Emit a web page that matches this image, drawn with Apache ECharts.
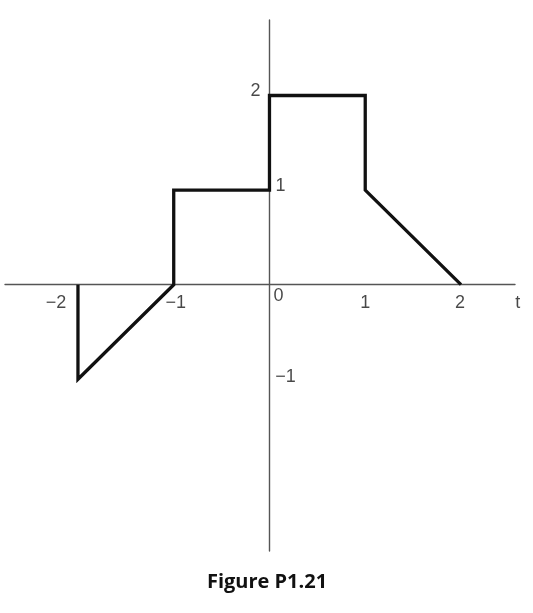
<!DOCTYPE html>
<html>
<head>
<meta charset="utf-8">
<script src="https://cdn.jsdelivr.net/npm/echarts@6/dist/echarts.min.js"></script>
<style>html,body{margin:0;padding:0;background:#fff;}#c{width:533px;height:613px;}</style>
</head>
<body>
<div id="c"></div>
<script>
// Signal x(t) vertices (t, value)
var signalT = [-2, -2, -1, -1, 0, 0, 1, 1, 2];
var signalX = [0, -1, 0, 1, 1, 2, 2, 1, 0];
// Tick labels
var xTickValues = [-2, -1, 1, 2];
var xTickLabels = ['\u22122', '\u22121', '1', '2'];
var yTickValues = [2, 1, -1];
var yTickLabels = ['2', '1', '\u22121'];
var originLabel = '0';
var axisName = 't';
var axisNameT = 2.5;
var figureTitle = 'Figure P1.21';

// label placement (style only)
var xLabelOffsets = [[-22, 18], [2, 18], [0, 18], [-1, 18]];
var yLabelOffsets = [[-14, -4], [11, -4], [16, -2]];

var chart = echarts.init(document.getElementById('c'));
var labelData = [];
xTickValues.forEach(function (v, i) {
  labelData.push({value: [v, 0], name: xTickLabels[i], label: {offset: xLabelOffsets[i]}});
});
yTickValues.forEach(function (v, i) {
  labelData.push({value: [0, v], name: yTickLabels[i], label: {offset: yLabelOffsets[i]}});
});
labelData.push({value: [0, 0], name: originLabel, label: {offset: [9, 11]}});
labelData.push({value: [axisNameT, 0], name: axisName, label: {offset: [9, 18]}});

chart.setOption({
  animation: false,
  backgroundColor: '#fff',
  title: {
    text: figureTitle,
    left: 262, top: 567, textAlign: 'center',
    textStyle: {fontFamily: 'Open Sans', fontWeight: 'bold', fontSize: 20, color: '#111'}
  },
  grid: {left: 5, right: 18, top: 20, bottom: 62},
  xAxis: {
    type: 'value', min: -2.762, max: 2.564,
    axisLine: {onZero: true, lineStyle: {color: '#555', width: 1.4}},
    axisTick: {show: false}, axisLabel: {show: false}, splitLine: {show: false}
  },
  yAxis: {
    type: 'value', min: -2.815, max: 2.798,
    axisLine: {onZero: true, lineStyle: {color: '#555', width: 1.4}},
    axisTick: {show: false}, axisLabel: {show: false}, splitLine: {show: false}
  },
  series: [
    {
      type: 'line',
      data: signalT.map(function (t, i) { return [t, signalX[i]]; }),
      showSymbol: false,
      symbol: 'none',
      lineStyle: {color: '#111', width: 3.3, join: 'miter'},
      z: 3
    },
    {
      type: 'scatter',
      symbolSize: 0,
      data: labelData,
      silent: true,
      label: {
        show: true, position: 'inside',
        formatter: function (p) { return p.name; },
        fontFamily: 'Liberation Sans', fontSize: 18, color: '#1a1a1a'
      },
      z: 4
    }
  ]
});
</script>
</body>
</html>
